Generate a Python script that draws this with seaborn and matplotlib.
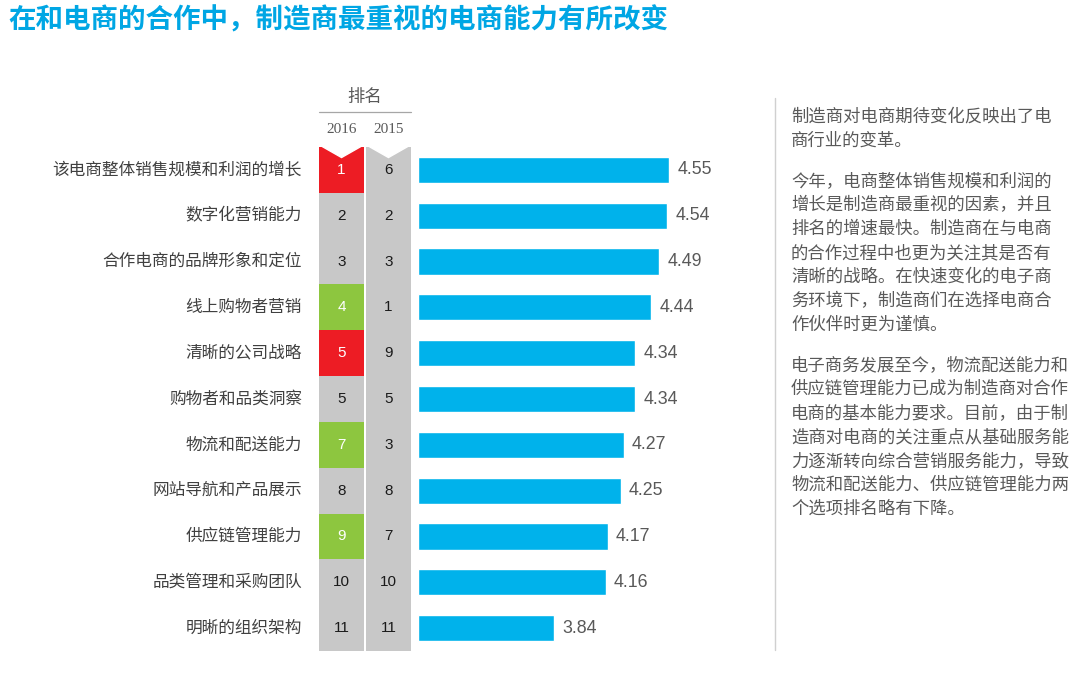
import numpy as np
import pandas as pd
import matplotlib
matplotlib.use('Agg')
import matplotlib.pyplot as plt
import seaborn as sns
from matplotlib.patches import Polygon

# ---- data ----
factors = ['该电商整体销售规模和利润的增长', '数字化营销能力', '合作电商的品牌形象和定位',
           '线上购物者营销', '清晰的公司战略', '购物者和品类洞察', '物流和配送能力',
           '网站导航和产品展示', '供应链管理能力', '品类管理和采购团队', '明晰的组织架构']
scores = [4.55, 4.54, 4.49, 4.44, 4.34, 4.34, 4.27, 4.25, 4.17, 4.16, 3.84]
rank_2016 = ['1', '2', '3', '4', '5', '5', '7', '8', '9', '10', '11']
rank_2015 = ['6', '2', '3', '1', '9', '5', '3', '8', '7', '10', '11']
rank_change = ['up', 'same', 'same', 'down', 'up', 'same', 'down', 'same', 'down', 'same', 'same']
years = ['2016', '2015']

title = '在和电商的合作中，制造商最重视的电商能力有所改变'
notes = [
    ['制造商对电商期待变化反映出了电', '商行业的变革。'],
    ['今年，电商整体销售规模和利润的', '增长是制造商最重视的因素，并且', '排名的增速最快。制造商在与电商',
     '的合作过程中也更为关注其是否有', '清晰的战略。在快速变化的电子商', '务环境下，制造商们在选择电商合',
     '作伙伴时更为谨慎。'],
    ['电子商务发展至今，物流配送能力和', '供应链管理能力已成为制造商对合作', '电商的基本能力要求。目前，由于制',
     '造商对电商的关注重点从基础服务能', '力逐渐转向综合营销服务能力，导致', '物流和配送能力、供应链管理能力两',
     '个选项排名略有下降。'],
]

df = pd.DataFrame({'factor': factors, 'score': scores})

sns.set_style('white')
plt.rcParams['font.family'] = ['Noto Sans CJK SC', 'DejaVu Sans']

BLUE = '#00b2eb'
RED = '#ed1c24'
GREEN = '#8dc63f'
GREY = '#c8c8c8'
TXT = '#595959'
change_col = {'up': RED, 'down': GREEN, 'same': GREY}

W, H = 1070, 681
fig = plt.figure(figsize=(W / 100, H / 100), dpi=100)


def px_axes(x0, y0, x1, y1):
    return fig.add_axes([x0 / W, 1 - y1 / H, (x1 - x0) / W, (y1 - y0) / H])


row_top, row_bot = 147, 651
n = len(factors)

# ---- bars ----
ax = px_axes(418, row_top, 760, row_bot)
sns.barplot(data=df, y='factor', x='score', orient='h', color=BLUE, width=0.57,
            saturation=1, ax=ax)
# bars start at 3.0, not at zero
for p in ax.patches:
    p.set_x(3.0)
    p.set_width(p.get_width() - 3.0)
ax.set_xlim(3.0, 3.0 + 342 / 162)
ax.set_ylim(n - 0.5, -0.5)
for i, v in enumerate(scores):
    ax.text(v + 0.05, i, f'{v:.2f}', va='center', ha='left', fontsize=12.8,
            color=TXT, family='Liberation Sans')
ax.set_xlabel('')
ax.set_ylabel('')
ax.set_xticks([])
ax.set_yticks([])
sns.despine(ax=ax, left=True, bottom=True)

# ---- rank columns ----
rax = px_axes(319, row_top, 411, row_bot)
rax.set_xlim(0, 2)
rax.set_ylim(n - 0.5, -0.5)
rows = np.arange(n)
cols16 = [change_col[c] for c in rank_change]
rax.barh(rows, 0.98, left=0, height=1.0, color=cols16, linewidth=0)
rax.barh(rows, 0.98, left=1.02, height=1.0, color=GREY, linewidth=0)
# chevron notch on top of each column
for x0 in (0, 1.02):
    rax.add_patch(Polygon([[x0, -0.55], [x0 + 0.98, -0.55], [x0 + 0.49, -0.27]],
                          closed=True, color='white', clip_on=False, zorder=3))
for i in range(n):
    c16 = 'white' if rank_change[i] != 'same' else '#1a1a1a'
    rax.text(0.49, i, rank_2016[i], ha='center', va='center', fontsize=11,
             color=c16, family='Liberation Sans')
    rax.text(1.51, i, rank_2015[i], ha='center', va='center', fontsize=11,
             color='#1a1a1a', family='Liberation Sans')
for j, y in enumerate(years):
    rax.text(0.49 + j * 1.02, -0.89, y, ha='center', va='center', fontsize=11,
             color=TXT, family='Liberation Serif', clip_on=False)
rax.plot([0, 2], [-1.26, -1.26], color='#a6a6a6', lw=0.9, clip_on=False)
rax.text(1.0, -1.6, '排名', ha='center', va='center', fontsize=12.5, color=TXT,
         clip_on=False)
rax.set_xticks([])
rax.set_yticks([])
sns.despine(ax=rax, left=True, bottom=True)

# factor labels
for i, f in enumerate(factors):
    rax.text(-0.37, i, f, ha='right', va='center', fontsize=12, color='#404040',
             clip_on=False)

# ---- title ----
fig.text(8 / W, 1 - 21 / H, title, ha='left', va='center', fontsize=19.8,
         fontweight='bold', color='#00a6e4')

# ---- separator + notes ----
fig.add_artist(plt.Line2D([775 / W, 775 / W], [1 - 98 / H, 1 - 650 / H],
                          color='#d0d0d0', lw=1.0))
y = 117
for para in notes:
    for line in para:
        fig.text(791 / W, 1 - y / H, line, ha='left', va='center', fontsize=12.5,
                 color=TXT)
        y += 24
    y += 16

fig.savefig('out.png', dpi=100)
